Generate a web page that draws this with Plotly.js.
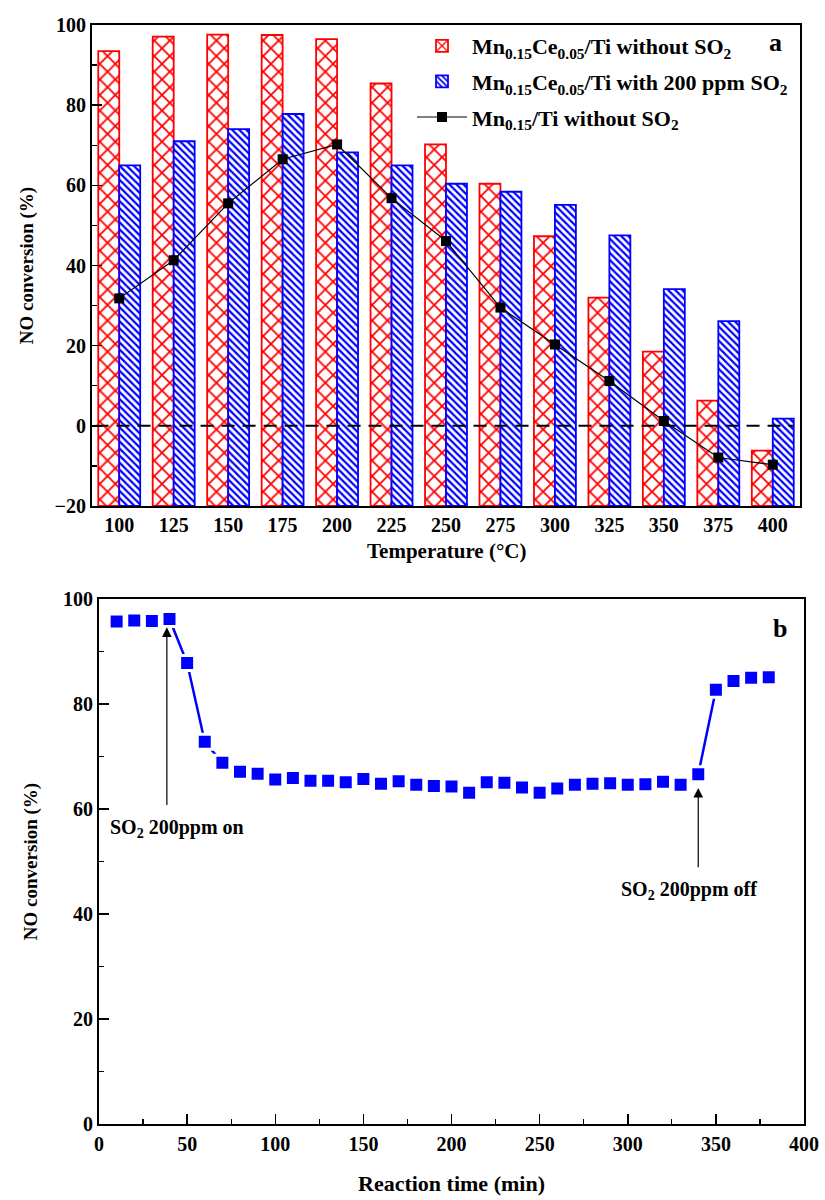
<!DOCTYPE html>
<html>
<head>
<meta charset="utf-8">
<script src="https://cdn.plot.ly/plotly-3.0.1.min.js"></script>
<style>html,body{margin:0;padding:0;background:#fff;}#chart{width:825px;height:1200px;}</style>
</head>
<body>
<div id="chart"></div>
<script>
// ---- Panel a data ----
const temperatures = ['100','125','150','175','200','225','250','275','300','325','350','375','400'];
const mnCeNoSO2   = [93.5, 97.1, 97.6, 97.5, 96.5, 85.4, 70.2, 60.4, 47.3, 32.0, 18.5, 6.3, -6.2];
const mnCeWithSO2 = [65.0, 71.0, 74.0, 77.8, 68.2, 65.0, 60.4, 58.4, 55.1, 47.5, 34.1, 26.1, 1.8];
const mnNoSO2     = [31.8, 41.3, 55.5, 66.5, 70.2, 56.8, 46.1, 29.5, 20.3, 11.2, 1.2, -7.9, -9.7];

// ---- Panel b data ----
const reactionTime = [10,20,30,40,50,60,70,80,90,100,110,120,130,140,150,160,170,180,190,200,
                      210,220,230,240,250,260,270,280,290,300,310,320,330,340,350,360,370,380];
const noConversion = [95.7,95.9,95.8,96.2,87.8,72.8,68.8,67.1,66.7,65.6,65.9,65.4,65.4,65.1,65.7,64.8,65.3,64.6,64.4,64.3,
                      63.1,65.1,65.0,64.1,63.1,63.9,64.6,64.8,64.9,64.6,64.7,65.2,64.6,66.6,82.7,84.4,85.0,85.1];

const FONT = 'Liberation Serif, Times New Roman, serif';
// Bars in panel a rise from the bottom of the axis (-20), as in the original Origin plot
const BAR_BASE = -20;
const lengthFrom = arr => arr.map(v => v - BAR_BASE);

const traces = [
  {
    type: 'bar', x: temperatures, y: lengthFrom(mnCeNoSO2), base: BAR_BASE, xaxis: 'x', yaxis: 'y',
    name: 'Mn<sub>0.15</sub>Ce<sub>0.05</sub>/Ti without SO<sub>2</sub>', legendgroup: 'g1',
    marker: {color: '#ffffff', line: {color: '#ff0000', width: 1.8},
             pattern: {shape: 'x', fgcolor: '#ff0000', bgcolor: '#ffffff', size: 11, solidity: 0.3, fillmode: 'replace'}}
  },
  {
    type: 'bar', x: temperatures, y: lengthFrom(mnCeWithSO2), base: BAR_BASE, xaxis: 'x', yaxis: 'y',
    name: 'Mn<sub>0.15</sub>Ce<sub>0.05</sub>/Ti with 200 ppm SO<sub>2</sub>', legendgroup: 'g2',
    marker: {color: '#ffffff', line: {color: '#0000ff', width: 1.8},
             pattern: {shape: '\\', fgcolor: '#0000ff', bgcolor: '#ffffff', size: 5, solidity: 0.45, fillmode: 'replace'}}
  },
  {
    type: 'scatter', mode: 'lines+markers', x: temperatures, y: mnNoSO2, xaxis: 'x', yaxis: 'y',
    name: 'Mn<sub>0.15</sub>/Ti without SO<sub>2</sub>', legendgroup: 'g3',
    line: {color: '#000000', width: 1.2},
    marker: {symbol: 'square', size: 10, color: '#000000'}
  },
  {
    type: 'scatter', mode: 'lines+markers', x: reactionTime, y: noConversion, xaxis: 'x2', yaxis: 'y2',
    showlegend: false,
    line: {color: '#0000ff', width: 2.5},
    marker: {symbol: 'square', size: 15, color: '#0000ff', line: {color: '#ffffff', width: 3}}
  }
];

const tickFont = {family: FONT, size: 20, color: '#000', weight: 'bold'};
const titleFontH = {family: FONT, size: 22, color: '#000', weight: 'bold'};
const titleFontV = {family: FONT, size: 19, color: '#000', weight: 'bold'};

const layout = {
  width: 825, height: 1200, autosize: false,
  margin: {l: 0, r: 0, t: 0, b: 0},
  paper_bgcolor: '#ffffff', plot_bgcolor: '#ffffff',
  barmode: 'group', bargap: 0.23, bargroupgap: 0,
  showlegend: true,
  legend: {
    x: 412/825, y: 1 - 25/1200, xanchor: 'left', yanchor: 'top',
    bgcolor: 'rgba(0,0,0,0)', borderwidth: 0,
    font: {family: FONT, size: 22, color: '#000', weight: 'bold'},
    itemwidth: 50, traceorder: 'grouped', tracegroupgap: 4
  },
  xaxis: {
    domain: [92/825, 800/825], anchor: 'y', type: 'category',
    range: [-0.5, 12.5],
    showline: true, linecolor: '#000', linewidth: 2, mirror: true,
    ticks: '', showgrid: false, zeroline: false,
    tickfont: tickFont, ticklabelstandoff: 0
  },
  yaxis: {
    domain: [1 - 506/1200, 1 - 25/1200], anchor: 'x',
    range: [-20, 100], dtick: 20, tick0: 0,
    showline: true, linecolor: '#000', linewidth: 2, mirror: true,
    ticks: 'inside', ticklen: 10, tickwidth: 1.5, tickcolor: '#000',
    minor: {dtick: 10, ticks: 'inside', ticklen: 5, tickwidth: 1.2, tickcolor: '#000', showgrid: false},
    showgrid: false, zeroline: false,
    tickfont: tickFont,
    title: {text: 'NO conversion (%)', font: titleFontV, standoff: 16}
  },
  xaxis2: {
    domain: [99/825, 804/825], anchor: 'y2',
    range: [0, 400], dtick: 50, tick0: 0,
    showline: true, linecolor: '#000', linewidth: 2, mirror: true,
    ticks: 'inside', ticklen: 10, tickwidth: 1.5, tickcolor: '#000',
    minor: {dtick: 25, ticks: 'inside', ticklen: 5, tickwidth: 1.2, tickcolor: '#000', showgrid: false},
    showgrid: false, zeroline: false,
    tickfont: tickFont, ticklabelstandoff: 1,
    title: {text: 'Reaction time (min)', font: titleFontH, standoff: 22}
  },
  yaxis2: {
    domain: [1 - 1124/1200, 1 - 599/1200], anchor: 'x2',
    range: [0, 100], dtick: 20, tick0: 0,
    showline: true, linecolor: '#000', linewidth: 2, mirror: true,
    ticks: 'inside', ticklen: 10, tickwidth: 1.5, tickcolor: '#000',
    minor: {dtick: 10, ticks: 'inside', ticklen: 5, tickwidth: 1.2, tickcolor: '#000', showgrid: false},
    showgrid: false, zeroline: false,
    tickfont: tickFont,
    title: {text: 'NO conversion (%)', font: titleFontV, standoff: 20}
  },
  shapes: [
    {type: 'line', layer: 'above', xref: 'x domain', yref: 'y', x0: 0.005, x1: 0.99, y0: 0, y1: 0,
     line: {color: '#000', width: 2, dash: '13px,8px'}}
  ],
  annotations: [
    // x-axis title of panel a (placed tight under the tick labels, as in the original)
    {xref: 'paper', yref: 'paper', x: 446/825, y: 1 - 551/1200, text: '<b>Temperature (°C)</b>', showarrow: false,
     font: {family: FONT, size: 21, color: '#000'}, xanchor: 'center', yanchor: 'middle'},
    {xref: 'paper', yref: 'paper', x: 775/825, y: 1 - 42/1200, text: '<b>a</b>', showarrow: false,
     font: {family: FONT, size: 26, color: '#000'}, xanchor: 'center', yanchor: 'middle'},
    {xref: 'paper', yref: 'paper', x: 780/825, y: 1 - 628/1200, text: '<b>b</b>', showarrow: false,
     font: {family: FONT, size: 26, color: '#000'}, xanchor: 'center', yanchor: 'middle'},
    // arrow: SO2 on
    {xref: 'x2', yref: 'y2', x: 38.5, y: 94.6, axref: 'x2', ayref: 'y2', ax: 38.5, ay: 60.5,
     text: '', showarrow: true, arrowhead: 2, arrowsize: 1.6, arrowwidth: 1.2, arrowcolor: '#000'},
    {xref: 'x2', yref: 'y2', x: 44.5, y: 56.3, text: '<b>SO<sub>2</sub> 200ppm on</b>', showarrow: false,
     font: {family: FONT, size: 20, color: '#000'}, xanchor: 'center', yanchor: 'middle'},
    // arrow: SO2 off
    {xref: 'x2', yref: 'y2', x: 340, y: 64.0, axref: 'x2', ayref: 'y2', ax: 340, ay: 48.6,
     text: '', showarrow: true, arrowhead: 2, arrowsize: 1.6, arrowwidth: 1.2, arrowcolor: '#000'},
    {xref: 'x2', yref: 'y2', x: 335, y: 44.4, text: '<b>SO<sub>2</sub> 200ppm off</b>', showarrow: false,
     font: {family: FONT, size: 20, color: '#000'}, xanchor: 'center', yanchor: 'middle'}
  ]
};

Plotly.newPlot('chart', traces, layout, {staticPlot: true, displayModeBar: false});
</script>
</body>
</html>
